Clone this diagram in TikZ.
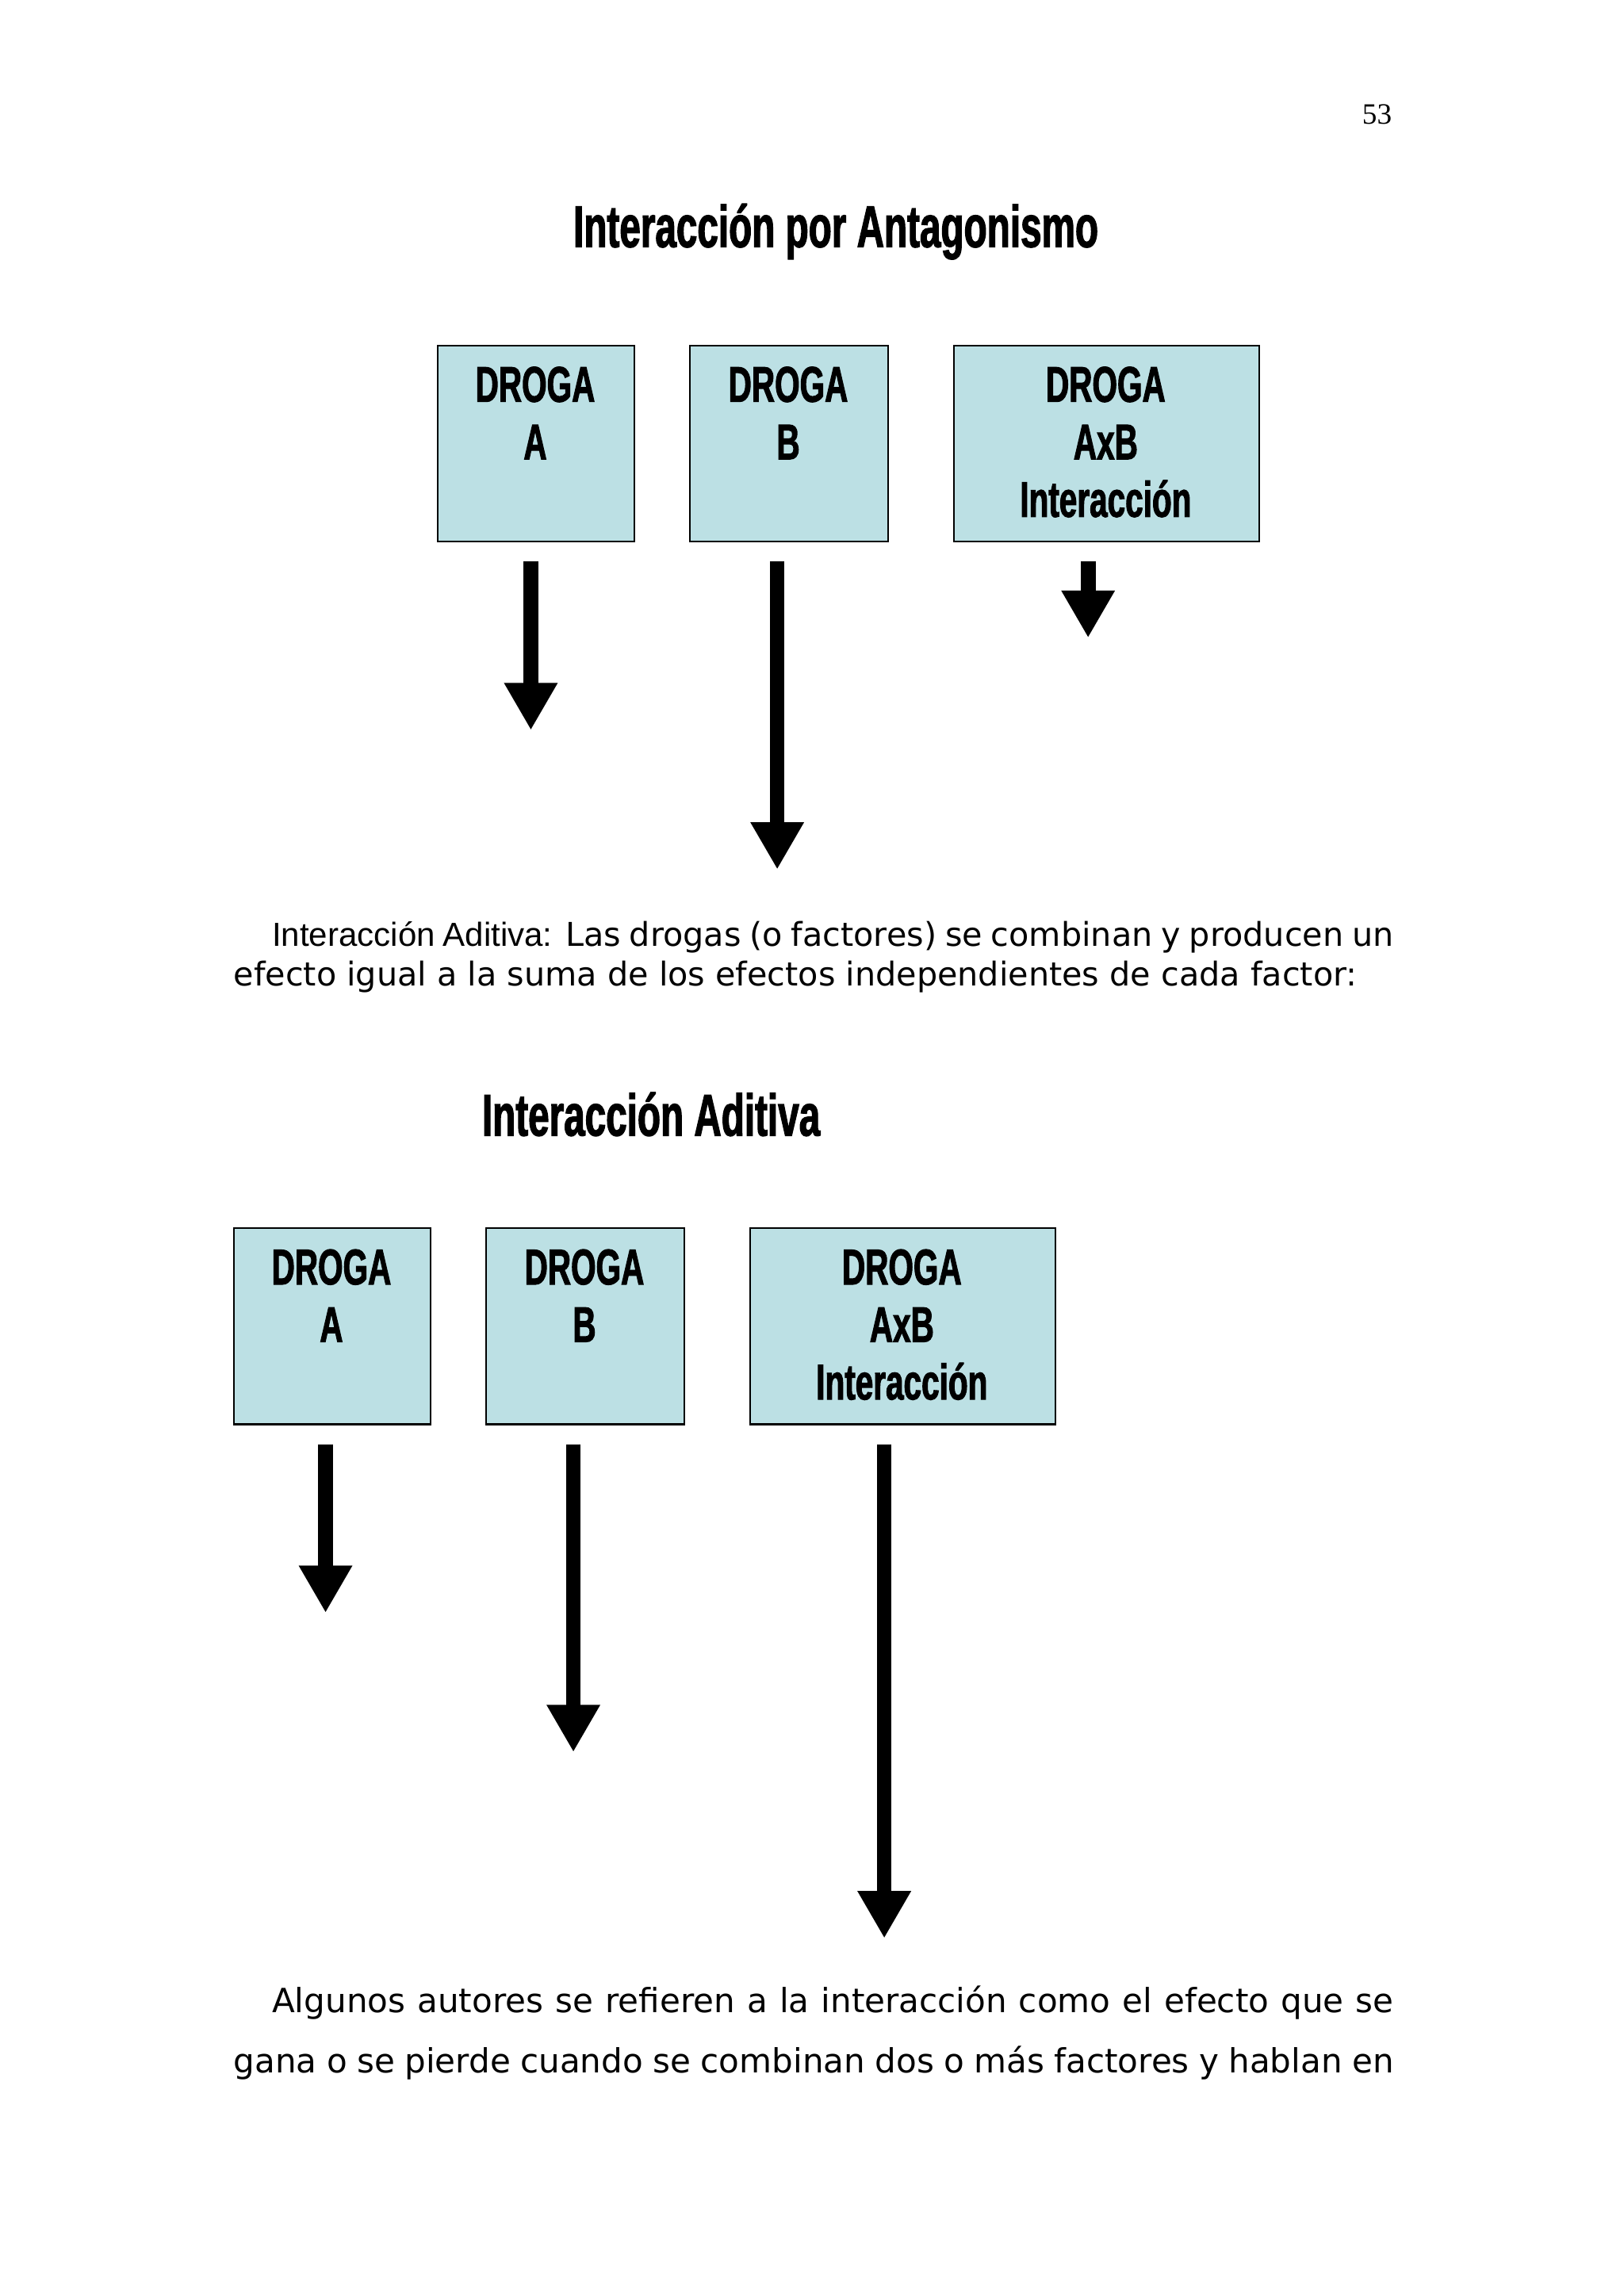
\documentclass[tikz,border=0pt]{standalone}
\usepackage{fontspec}
\setmainfont{Liberation Serif}
\newfontfamily\cond[FakeStretch=0.64,FakeBold=1.6]{Liberation Sans Bold}
\newfontfamily\verd{DejaVu Sans}
\newfontfamily\arial{Liberation Sans}
\usetikzlibrary{arrows.meta}
\definecolor{boxblue}{HTML}{BCE0E4}
\begin{document}
\begin{tikzpicture}[x=0.4967pt,y=-0.4967pt,
  drogabox/.style={draw=black,line width=0.6pt,fill=boxblue,anchor=north west,inner sep=0pt},
  lbl/.style={anchor=north,align=center,font=\cond\fontsize{17pt}{19.5pt}\selectfont},
  bigarrow/.style={line width=5pt,-{Triangle[length=16pt,width=17pt]}},
  ttl/.style={font=\cond\fontsize{20pt}{22pt}\selectfont}]
\useasboundingbox (0,0) rectangle (1107,1566);
\node[font=\fontsize{10pt}{12pt}\selectfont] (pg) at (939,78) {53};
\node[ttl] (t1) at (570,158) {Interacción por Antagonismo};
\node[drogabox,minimum width=66.5pt,minimum height=66.5pt] (a1) at (298,235) {};
\node[lbl] (a1t) at (365,243) {DROGA\\A};
\node[drogabox,minimum width=67pt,minimum height=66.5pt] (b1) at (470,235) {};
\node[lbl] (b1t) at (537.5,243) {DROGA\\B};
\node[drogabox,minimum width=103.3pt,minimum height=66.5pt] (c1) at (650,235) {};
\node[lbl] (c1t) at (754,243) {DROGA\\AxB\\Interacción};
\coordinate (a1s) at (362,383); \coordinate (a1e) at (362,498);
\coordinate (b1s) at (530,383); \coordinate (b1e) at (530,593);
\coordinate (c1s) at (742,383); \coordinate (c1e) at (742,435);
\draw[bigarrow] (a1s) -- (a1e);
\draw[bigarrow] (b1s) -- (b1e);
\draw[bigarrow] (c1s) -- (c1e);
\node[anchor=north west,inner sep=0pt,text width=392.9pt,align=justify,font=\verd\fontsize{11.1pt}{13.4pt}\selectfont] (p1) at (159,628)
 {\hspace*{13pt}{\arial\fontsize{11.3pt}{13.4pt}\selectfont Interacción Aditiva:} Las drogas (o factores) se combinan y producen un efecto igual a la suma de los efectos independientes de cada factor:};
\node[ttl] (t2) at (444,760) {Interacción Aditiva};
\node[drogabox,minimum width=66.5pt,minimum height=66.5pt] (a2) at (159,837) {};
\node[lbl] (a2t) at (226,845) {DROGA\\A};
\node[drogabox,minimum width=67pt,minimum height=66.5pt] (b2) at (331,837) {};
\node[lbl] (b2t) at (398.5,845) {DROGA\\B};
\node[drogabox,minimum width=103.3pt,minimum height=66.5pt] (c2) at (511,837) {};
\node[lbl] (c2t) at (615,845) {DROGA\\AxB\\Interacción};
\coordinate (a2s) at (222,985); \coordinate (a2e) at (222,1100);
\coordinate (b2s) at (391,985); \coordinate (b2e) at (391,1195);
\coordinate (c2s) at (603,985); \coordinate (c2e) at (603,1322);
\draw[bigarrow] (a2s) -- (a2e);
\draw[bigarrow] (b2s) -- (b2e);
\draw[bigarrow] (c2s) -- (c2e);
\node[anchor=north west,inner sep=0pt,text width=392.9pt,align=justify,font=\verd\fontsize{11.3pt}{20.4pt}\selectfont] (p2) at (159,1354)
 {\hspace*{13pt}Algunos autores se refieren a la interacción como el efecto que se gana o se pierde cuando se combinan dos o más factores y hablan en\hspace*{0pt plus 0pt}};
\end{tikzpicture}
\end{document}
